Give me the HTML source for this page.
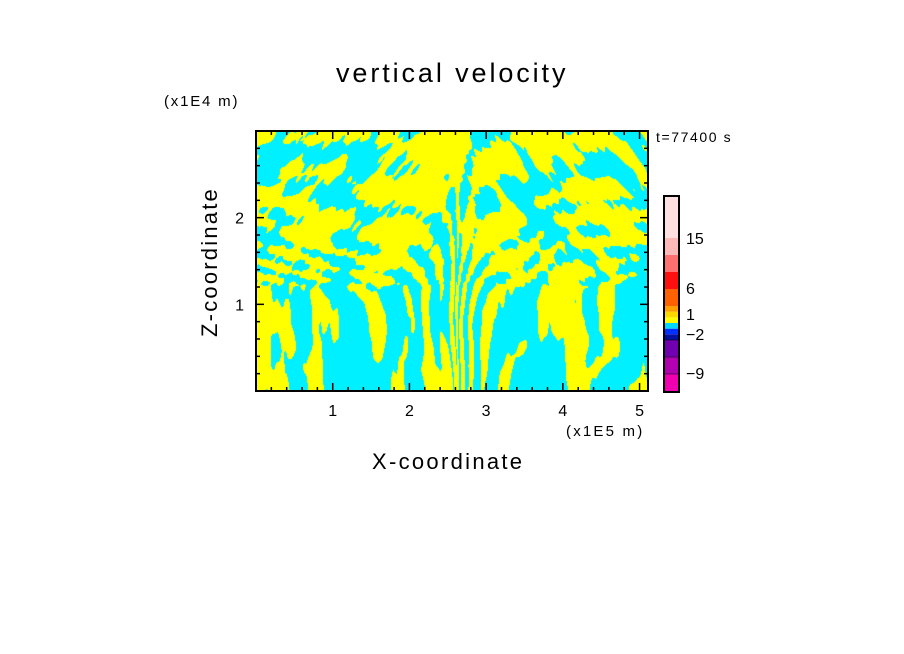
<!DOCTYPE html>
<html><head><meta charset="utf-8"><style>
body{margin:0;background:#fff;width:904px;height:654px;overflow:hidden;position:relative;font-family:"Liberation Sans",sans-serif}
.t{position:absolute;color:#000;white-space:nowrap}
</style></head><body>
<div class="t" style="left:336px;top:58px;font-size:27px;letter-spacing:2.9px">vertical velocity</div>
<div class="t" style="left:164px;top:93px;font-size:15px;letter-spacing:1.8px">(x1E4 m)</div>
<div class="t" style="left:656px;top:129px;font-size:14px;letter-spacing:1.6px">t=77400 s</div>
<div class="t" style="left:566px;top:423px;font-size:15px;letter-spacing:2.2px">(x1E5 m)</div>
<div class="t" style="left:372px;top:449px;font-size:22px;letter-spacing:2.3px">X-coordinate</div>
<div class="t" style="left:130px;top:249px;font-size:22px;letter-spacing:2.2px;transform:rotate(-90deg);transform-origin:center;width:160px;text-align:center">Z-coordinate</div>
<canvas id="field" width="392" height="260" style="position:absolute;left:256px;top:131px"></canvas>
<svg id="ov" width="904" height="654" style="position:absolute;left:0;top:0"></svg>
<script>
const xTicks=[1,2,3,4,5];
const yTicks=[1,2];
const cbLabels=["15","6","1","−2","−9"];
const cbLabelVals=[15,6,1,-2,-9];
const cbColors=["#f000b0","#b000b0","#7000b0","#0010a0","#0030ff","#00d8ff","#ffff00","#ffd800","#ffa000","#ff6000","#ff1010","#ff7070","#ffb8b8","#ffe0e0"];
const cbLevels=[-12,-9,-6,-3,-2,-1,0,1,2,3,6,9,12,15,20];
const xMax=5.11, zMax=3.0;
const X0=256,X1=648,Y0=391,Y1=131;
const sx=v=>X0+v/xMax*(X1-X0), sy=v=>Y0-v/zMax*(Y0-Y1);
const NS="http://www.w3.org/2000/svg", ov=document.getElementById('ov');
function mk(tag,at){const e=document.createElementNS(NS,tag);for(const k in at)e.setAttribute(k,at[k]);ov.appendChild(e);return e;}
function h(i,j){let n=i*374761393+j*668265263;n=(n^(n>>13))*1274126177;n=n^(n>>16);return ((n>>>0)%10000)/5000-1;}
function noise(x,y){const i=Math.floor(x),j=Math.floor(y),fx=x-i,fy=y-j,ux=fx*fx*(3-2*fx),uy=fy*fy*(3-2*fy);
 return (h(i,j)*(1-ux)+h(i+1,j)*ux)*(1-uy)+(h(i,j+1)*(1-ux)+h(i+1,j+1)*ux)*uy;}
const cv=document.getElementById('field'),cx=cv.getContext('2d');
const img=cx.createImageData(392,260);
for(let j=0;j<260;j++)for(let i=0;i<392;i++){
 const x=i/391*xMax, z=(259-j)/259*zMax, d=x-2.62;
 const zs=z<1.2?1:1+(z-1.2)*0.8;
 const zz=z<1.2?z*1.2:1.44+(z-1.2)*2.5;
 let ph=30*Math.sign(d)*Math.sqrt(Math.abs(d))/zs - z*(2+Math.abs(d)*2)*Math.sign(d);
 ph+=4*noise(x*2,z*1.2);
 const w=Math.exp(-Math.abs(d)*1.2);
 const xs=x+0.25*(z>1.2?(z-1.2):0)*Math.sign(d)*3;
 let v=(0.4+0.8*w)*Math.sin(ph)+1.3*noise(xs*5+11,zz)+0.6*noise(xs*18,zz*3.3);
 const b=Math.exp(-((x-2.35)**2)/0.3-((z-2.75)**2)/0.12); v+=2.2*b;
 const p=(j*392+i)*4, y=v>0;
 img.data[p]=y?255:0;img.data[p+1]=y?255:240;img.data[p+2]=y?0:255;img.data[p+3]=255;
}
cx.putImageData(img,0,0);
let e=mk('rect',{x:X0,y:Y1,width:X1-X0,height:Y0-Y1,fill:'none',stroke:'#000','stroke-width':2});

for(let v=0.2;v<xMax;v+=0.2){const big=Math.abs(v-Math.round(v))<1e-6,L=big?8:4,x=sx(v);
 mk('line',{x1:x,y1:Y0,x2:x,y2:Y0-L,stroke:'#000','stroke-width':1.5});mk('line',{x1:x,y1:Y1,x2:x,y2:Y1+L,stroke:'#000','stroke-width':1.5});}
for(let v=0.2;v<zMax-0.01;v+=0.2){const big=Math.abs(v-Math.round(v))<1e-6,L=big?8:4,y=sy(v);
 mk('line',{x1:X0,y1:y,x2:X0+L,y2:y,stroke:'#000','stroke-width':1.5});mk('line',{x1:X1,y1:y,x2:X1-L,y2:y,stroke:'#000','stroke-width':1.5});}
xTicks.forEach(v=>{const t=mk('text',{x:sx(v),y:416,'font-size':16,'text-anchor':'middle','font-family':'Liberation Sans'});t.textContent=v;
 });
yTicks.forEach(v=>{const t=mk('text',{x:244,y:sy(v)+6,'font-size':16,'text-anchor':'end','font-family':'Liberation Sans'});t.textContent=v;
 });
const CB0=392,CB1=196;
const segH=[18,17,17,5.67,5.67,5.67,5.67,5.67,5.65,17,17,17,17,42];
let yy=CB0;
cbColors.forEach((c,i)=>{const hh=segH[i];yy-=hh;const r=mk('rect',{x:664,y:yy,width:15,height:hh,fill:c});
 });
[340,357,374].forEach(y=>mk('line',{x1:664,y1:y,x2:679,y2:y,stroke:'#000','stroke-width':0.5}));
mk('rect',{x:664,y:CB1,width:15,height:CB0-CB1,fill:'none',stroke:'#000','stroke-width':2});
const labY={15:238,6:288,1:314,"-2":334,"-9":373};
cbLabelVals.forEach((v,i)=>{const t=mk('text',{x:686,y:labY[v]+6,'font-size':16,'font-family':'Liberation Sans'});t.textContent=cbLabels[i];
 });
</script>
</body></html>
